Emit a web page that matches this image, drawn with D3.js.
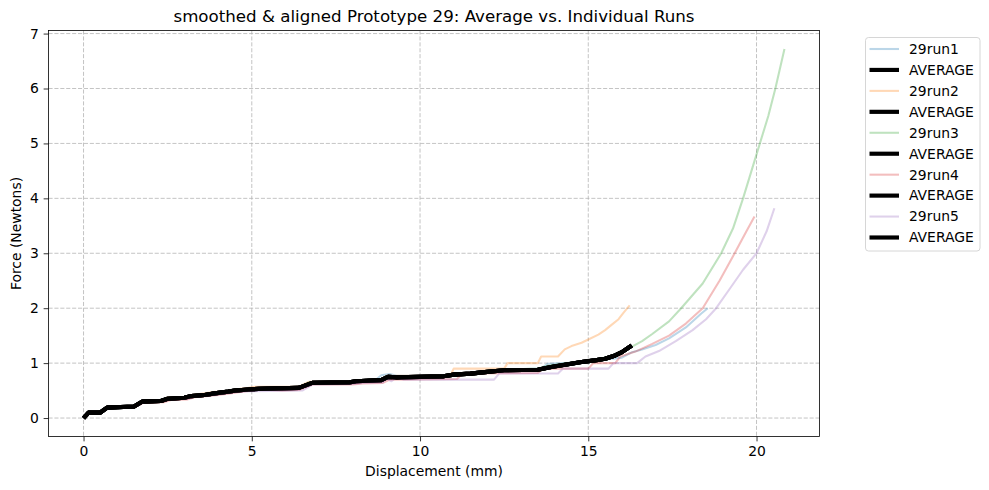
<!DOCTYPE html>
<html>
<head>
<meta charset="utf-8">
<script src="https://cdn.jsdelivr.net/npm/d3@7"></script>
<style>
  html, body { margin: 0; padding: 0; background: #fff; }
  svg { display: block; font-family: "DejaVu Sans", sans-serif; }
</style>
</head>
<body>
<svg id="chart" width="989" height="490"></svg>
<script>
// ---------------- DATA ----------------
const runNames = ["29run1", "29run2", "29run3", "29run4", "29run5"];
const averageName = "AVERAGE";
const xTicks = [0, 5, 10, 15, 20];
const yTicks = [0, 1, 2, 3, 4, 5, 6, 7];

const run1 = [[0,0],[0.15,0.1],[0.5,0.1],[0.7,0.2],[1.5,0.2],[1.7,0.3],[2.3,0.3],[2.5,0.35],[3.0,0.37],[3.2,0.4],[3.6,0.42],[3.9,0.45],[4.3,0.48],[4.5,0.5],[4.9,0.52],[5.2,0.55],[6.4,0.55],[6.7,0.65],[7.9,0.65],[8.1,0.68],[8.65,0.68],[8.85,0.78],[9.1,0.8],[9.3,0.77],[10.8,0.77],[11.1,0.8],[11.6,0.82],[12.0,0.85],[12.5,0.88],[13.6,0.9],[13.8,0.99],[14.3,1.0],[15.2,1.03],[15.6,1.07],[16.0,1.1],[16.3,1.2],[16.6,1.25],[17.0,1.33],[17.4,1.45],[17.9,1.65],[18.35,1.9],[18.55,2.0]];
const run2 = [[0,0],[0.15,0.1],[0.55,0.11],[0.75,0.2],[1.5,0.22],[1.7,0.3],[2.4,0.32],[2.5,0.38],[3.0,0.38],[3.2,0.42],[3.6,0.45],[3.9,0.48],[4.4,0.48],[4.5,0.52],[4.9,0.55],[5.1,0.57],[6.4,0.57],[6.7,0.66],[8.0,0.66],[8.2,0.68],[8.8,0.68],[9.0,0.77],[10.9,0.77],[11.0,0.9],[12.5,0.9],[12.6,1.0],[13.5,1.0],[13.6,1.12],[14.1,1.12],[14.3,1.25],[14.5,1.31],[14.8,1.37],[15.0,1.43],[15.3,1.52],[15.5,1.6],[15.7,1.7],[15.9,1.8],[16.05,1.92],[16.23,2.05]];
const run3 = [[0,0],[0.15,0.1],[0.5,0.1],[0.7,0.2],[1.5,0.2],[1.7,0.3],[2.3,0.3],[2.5,0.35],[3.0,0.37],[3.2,0.4],[3.6,0.42],[3.9,0.45],[4.3,0.48],[4.5,0.5],[4.9,0.52],[5.2,0.54],[6.4,0.56],[6.7,0.65],[7.9,0.65],[8.1,0.68],[8.85,0.7],[9.0,0.76],[10.8,0.77],[11.1,0.8],[11.6,0.82],[12.0,0.86],[12.5,0.88],[13.5,0.9],[13.8,0.95],[14.4,1.0],[15.0,1.04],[15.5,1.1],[15.9,1.18],[16.3,1.3],[16.6,1.4],[16.9,1.53],[17.4,1.76],[17.76,2.0],[18.4,2.45],[18.95,3.0],[19.3,3.45],[19.6,4.0],[19.85,4.5],[20.1,5.0],[20.35,5.5],[20.56,6.0],[20.83,6.72]];
const run4 = [[0,0],[0.15,0.1],[0.5,0.1],[0.7,0.19],[1.5,0.2],[1.8,0.28],[2.4,0.29],[2.6,0.33],[3.1,0.34],[3.3,0.38],[3.7,0.4],[4.0,0.42],[4.4,0.45],[4.6,0.47],[5.0,0.5],[5.2,0.52],[5.9,0.5],[6.4,0.51],[6.8,0.61],[8.0,0.61],[8.3,0.63],[8.9,0.64],[9.1,0.7],[11.1,0.71],[11.25,0.81],[13.5,0.82],[13.65,0.9],[15.0,0.9],[15.15,1.0],[15.8,1.0],[15.95,1.12],[16.4,1.21],[16.9,1.35],[17.4,1.5],[17.9,1.72],[18.4,2.0],[18.9,2.5],[19.35,3.0],[19.7,3.4],[19.94,3.67]];
const run5 = [[0,0],[0.15,0.1],[0.5,0.1],[0.75,0.19],[1.5,0.2],[1.8,0.29],[2.3,0.3],[2.6,0.34],[3.1,0.35],[3.3,0.39],[3.7,0.41],[4.0,0.43],[4.4,0.46],[4.6,0.48],[5.0,0.49],[6.5,0.5],[6.8,0.61],[8.0,0.62],[8.3,0.64],[8.9,0.65],[9.0,0.72],[9.15,0.67],[9.3,0.74],[9.5,0.7],[12.2,0.7],[12.35,0.81],[14.1,0.81],[14.25,0.9],[15.6,0.9],[15.75,1.0],[16.45,1.0],[16.7,1.12],[17.1,1.22],[17.6,1.4],[18.1,1.6],[18.5,1.8],[18.8,2.0],[19.2,2.35],[19.6,2.7],[20.0,3.0],[20.3,3.4],[20.53,3.82]];
const average = [[0,0],[0.15,0.1],[0.5,0.1],[0.7,0.19],[1.5,0.21],[1.75,0.3],[2.3,0.31],[2.5,0.35],[3.0,0.37],[3.2,0.4],[3.6,0.42],[3.9,0.45],[4.3,0.48],[4.5,0.5],[4.9,0.52],[5.2,0.53],[6.4,0.55],[6.8,0.64],[7.9,0.65],[8.1,0.67],[8.85,0.69],[9.05,0.75],[9.3,0.74],[10.7,0.76],[11.0,0.79],[11.5,0.81],[12.0,0.84],[12.5,0.87],[13.5,0.88],[13.9,0.93],[14.4,0.98],[14.8,1.02],[15.2,1.05],[15.5,1.08],[15.8,1.14],[16.0,1.2],[16.29,1.32]];

const runs = [run1, run2, run3, run4, run5];
const runColors = ["#1f77b4", "#ff7f0e", "#2ca02c", "#d62728", "#9467bd"];

// ---------------- LAYOUT ----------------
const svg = d3.select("#chart");
const plot = { left: 48.5, right: 819.5, top: 30.5, bottom: 436.5 };

const allPts = runs.flat().concat(average);
const xExt = d3.extent(allPts, d => d[0]);
const yExt = d3.extent(allPts, d => d[1]);
const xPad = (xExt[1] - xExt[0]) * 0.05;
const yPad = (yExt[1] - yExt[0]) * 0.05;

const x = d3.scaleLinear().domain([xExt[0] - xPad, xExt[1] + xPad]).range([plot.left, plot.right]);
const y = d3.scaleLinear().domain([yExt[0] - yPad, yExt[1] + yPad]).range([plot.bottom, plot.top]);

const gridColor = "#b0b0b0";
const dash = "4.1,1.8";

// grid
const grid = svg.append("g");
grid.selectAll("line.vx").data(xTicks).enter().append("line")
  .attr("x1", d => x(d)).attr("x2", d => x(d))
  .attr("y1", plot.top).attr("y2", plot.bottom)
  .attr("stroke", gridColor).attr("stroke-opacity", 0.75)
  .attr("stroke-width", 1).attr("stroke-dasharray", dash);
grid.selectAll("line.hy").data(yTicks).enter().append("line")
  .attr("x1", plot.left).attr("x2", plot.right)
  .attr("y1", d => y(d)).attr("y2", d => y(d))
  .attr("stroke", gridColor).attr("stroke-opacity", 0.75)
  .attr("stroke-width", 1).attr("stroke-dasharray", dash);

// clip
svg.append("clipPath").attr("id", "clip").append("rect")
  .attr("x", plot.left).attr("y", plot.top)
  .attr("width", plot.right - plot.left).attr("height", plot.bottom - plot.top);

const line = d3.line().x(d => x(d[0])).y(d => y(d[1]));
const lines = svg.append("g").attr("clip-path", "url(#clip)");

runs.forEach((r, i) => {
  lines.append("path").datum(r).attr("d", line)
    .attr("fill", "none").attr("stroke", runColors[i]).attr("stroke-opacity", 0.3)
    .attr("stroke-width", 2.08).attr("stroke-linejoin", "round").attr("stroke-linecap", "butt");
  lines.append("path").datum(average).attr("d", line)
    .attr("fill", "none").attr("stroke", "#000")
    .attr("stroke-width", 4.17).attr("stroke-linejoin", "round").attr("stroke-linecap", "butt");
});

// axes
const xAxis = d3.axisBottom(x).tickValues(xTicks).tickSize(4.86).tickPadding(4.86).tickFormat(d3.format("d"));
const yAxis = d3.axisLeft(y).tickValues(yTicks).tickSize(4.86).tickPadding(4.86).tickFormat(d3.format("d"));

const gx = svg.append("g").attr("transform", `translate(0,${plot.bottom})`).call(xAxis);
const gy = svg.append("g").attr("transform", `translate(${plot.left},0)`).call(yAxis);
[gx, gy].forEach(g => {
  g.select(".domain").remove();
  g.selectAll(".tick line").attr("stroke", "#000").attr("stroke-width", 0.8);
  g.selectAll(".tick text").attr("fill", "#000").style("font-size", "13.9px").style("font-family", "DejaVu Sans");
});

// spines
svg.append("rect")
  .attr("x", plot.left).attr("y", plot.top)
  .attr("width", plot.right - plot.left).attr("height", plot.bottom - plot.top)
  .attr("fill", "none").attr("stroke", "#000").attr("stroke-width", 0.8);

// title & labels
svg.append("text").attr("x", (plot.left + plot.right) / 2).attr("y", 22)
  .attr("text-anchor", "middle").style("font-size", "16.67px")
  .text("smoothed & aligned Prototype 29: Average vs. Individual Runs");
svg.append("text").attr("x", (plot.left + plot.right) / 2).attr("y", 476)
  .attr("text-anchor", "middle").style("font-size", "13.9px")
  .text("Displacement (mm)");
svg.append("text")
  .attr("transform", `translate(21,${(plot.top + plot.bottom) / 2}) rotate(-90)`)
  .attr("text-anchor", "middle").style("font-size", "13.9px")
  .text("Force (Newtons)");

// legend
const legendItems = [];
runNames.forEach((n, i) => {
  legendItems.push({ name: n, color: runColors[i], opacity: 0.3, width: 2.08 });
  legendItems.push({ name: averageName, color: "#000", opacity: 1, width: 4.17 });
});
const leg = svg.append("g");
leg.append("rect").attr("x", 865.5).attr("y", 37.5).attr("width", 114.5).attr("height", 213.5)
  .attr("rx", 3).attr("fill", "#fff").attr("fill-opacity", 0.8)
  .attr("stroke", "#cccccc").attr("stroke-width", 0.8);
const ly = d3.scaleLinear().domain([0, legendItems.length - 1]).range([49, 237.5]);
legendItems.forEach((it, i) => {
  leg.append("line").attr("x1", 869.5).attr("x2", 899).attr("y1", ly(i)).attr("y2", ly(i))
    .attr("stroke", it.color).attr("stroke-opacity", it.opacity).attr("stroke-width", it.width);
  leg.append("text").attr("x", 909).attr("y", ly(i)).attr("dy", "0.35em")
    .style("font-size", "13.9px").text(it.name);
});
</script>
</body>
</html>
